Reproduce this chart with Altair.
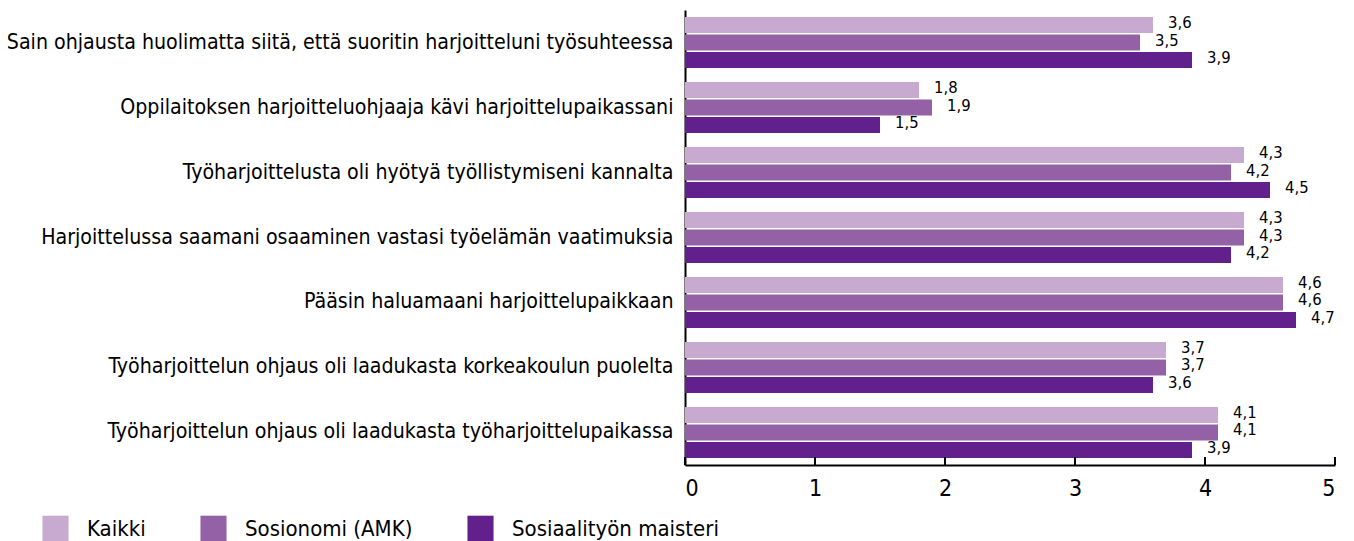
import altair as alt
import pandas as pd

categories = [
    "Sain ohjausta huolimatta siitä, että suoritin harjoitteluni työsuhteessa",
    "Oppilaitoksen harjoitteluohjaaja kävi harjoittelupaikassani",
    "Työharjoittelusta oli hyötyä työllistymiseni kannalta",
    "Harjoittelussa saamani osaaminen vastasi työelämän vaatimuksia",
    "Pääsin haluamaani harjoittelupaikkaan",
    "Työharjoittelun ohjaus oli laadukasta korkeakoulun puolelta",
    "Työharjoittelun ohjaus oli laadukasta työharjoittelupaikassa",
]
series = ["Kaikki", "Sosionomi (AMK)", "Sosiaalityön maisteri"]
kaikki = [3.6, 1.8, 4.3, 4.3, 4.6, 3.7, 4.1]
sosionomi = [3.5, 1.9, 4.2, 4.3, 4.6, 3.7, 4.1]
maisteri = [3.9, 1.5, 4.5, 4.2, 4.7, 3.6, 3.9]
colors = ["#C8AAD0", "#9460A6", "#62208C"]
x_ticks = [0, 1, 2, 3, 4, 5]

rows = []
for s, vals in zip(series, [kaikki, sosionomi, maisteri]):
    for c, v in zip(categories, vals):
        rows.append({"kysymys": c, "ryhma": s, "arvo": v})
df = pd.DataFrame(rows)
ticks_df = pd.DataFrame({"t": x_ticks})

W, H = 650, 455
FONT = "Liberation Sans Narrow, DejaVu Sans Condensed, Roboto Condensed, sans-serif"

y_enc = alt.Y("kysymys:N", sort=categories, title=None,
              scale=alt.Scale(paddingInner=0.215, paddingOuter=0.108),
              axis=alt.Axis(ticks=False, domain=True, domainColor="black",
                            domainWidth=2, labelFontSize=21.2, labelColor="black",
                            labelFont=FONT, labelPadding=12, labelLimit=700))
yoff = alt.YOffset("ryhma:N", sort=series, scale=alt.Scale(paddingInner=0.08))
x_scale = alt.Scale(domain=[0, 5], nice=False)

bars = alt.Chart(df).mark_bar().encode(
    x=alt.X("arvo:Q", scale=x_scale, title=None,
            axis=alt.Axis(values=x_ticks, ticks=False, domain=True, domainColor="black",
                          domainWidth=2, grid=False, labelFontSize=23, labelColor="black",
                          labelFont=FONT, labelPadding=12, format="d")),
    y=y_enc,
    yOffset=yoff,
    color=alt.Color("ryhma:N", sort=series,
                    scale=alt.Scale(domain=series, range=colors),
                    legend=alt.Legend(title=None, orient="none", direction="horizontal",
                                      legendX=-643, legendY=505, symbolType="square",
                                      symbolSize=680, symbolStrokeWidth=0,
                                      labelFontSize=22, labelFont=FONT, labelColor="black",
                                      labelOffset=18, columnPadding=54, labelLimit=400)),
)

labels = alt.Chart(df).transform_calculate(
    lab="replace(format(datum.arvo, '.1f'), '.', ',')"
).mark_text(align="left", baseline="middle", dx=15, dy=-2, fontSize=16.5,
            font=FONT, color="black").encode(
    x=alt.X("arvo:Q", scale=x_scale),
    y=alt.Y("kysymys:N", sort=categories),
    yOffset=alt.YOffset("ryhma:N", sort=series),
    text="lab:N",
)

tick_rules = alt.Chart(ticks_df).mark_rule(color="black", strokeWidth=2).encode(
    x=alt.X("t:Q", scale=x_scale),
    y=alt.value(H - 8),
    y2=alt.value(H),
)

chart = alt.layer(bars, labels, tick_rules).properties(
    width=W, height=H,
    autosize=alt.AutoSizeParams(type="none"),
    padding={"left": 677, "top": 2, "right": 11, "bottom": 76},
).configure_view(stroke=None)

chart.save("out.html", embed_options={"renderer": "svg", "actions": False})
